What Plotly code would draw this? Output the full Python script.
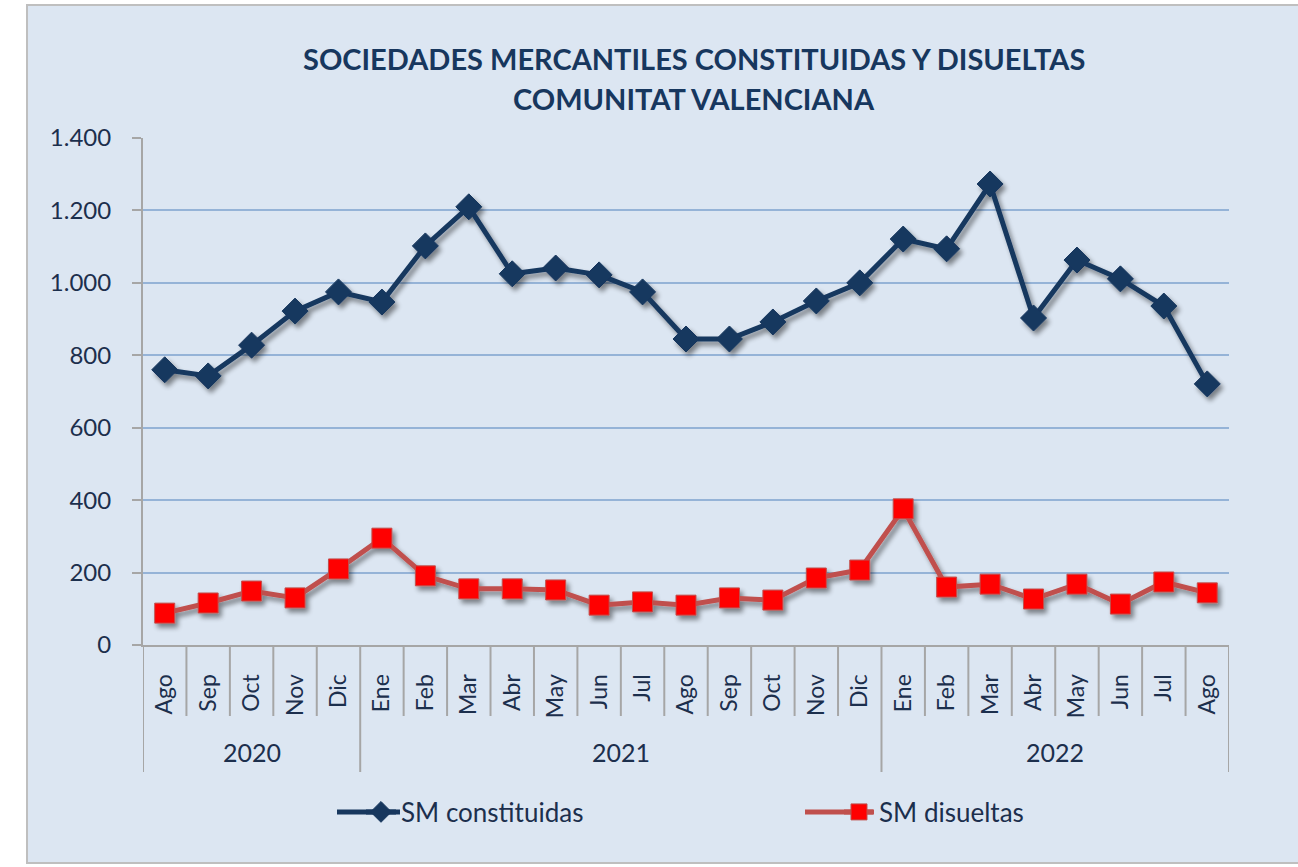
import plotly.graph_objects as go

months = ["Ago", "Sep", "Oct", "Nov", "Dic",
          "Ene", "Feb", "Mar", "Abr", "May", "Jun", "Jul", "Ago", "Sep", "Oct", "Nov", "Dic",
          "Ene", "Feb", "Mar", "Abr", "May", "Jun", "Jul", "Ago"]
years = ["2020", "2021", "2022"]
year_counts = [5, 12, 8]

constituidas = [760, 743, 828, 922, 975,
                947, 1102, 1210, 1025, 1041, 1022, 975, 845, 845, 892, 950, 1000,
                1121, 1094, 1273, 903, 1063, 1011, 936, 721]
disueltas = [88, 116, 149, 130, 210,
             295, 191, 155, 155, 152, 110, 119, 110, 130, 124, 185, 207,
             376, 160, 168, 127, 168, 113, 174, 144]

W, H = 1298, 867
L, R, T, B = 143, 1229, 138, 645
pw, ph = R - L, B - T


def px_x(p):
    return (p - L) / pw


def px_y(p):
    return (B - p) / ph


x = list(range(len(months)))
FONT = "Lato"
TXT = "#1c2f4d"
NAVY = "#17375e"
RED_LINE = "#c0504d"

fig = go.Figure()
fig.add_trace(go.Scatter(
    x=x, y=constituidas, name="SM constituidas", mode="lines+markers",
    line=dict(color=NAVY, width=5),
    marker=dict(symbol="diamond", size=20, color=NAVY, line=dict(color=NAVY, width=1)),
    legend="legend",
))
fig.add_trace(go.Scatter(
    x=x, y=disueltas, name="SM disueltas", mode="lines+markers",
    line=dict(color=RED_LINE, width=5),
    marker=dict(symbol="square", size=20, color="#ff0000", line=dict(color=RED_LINE, width=1)),
    legend="legend2",
))

shapes = []
shapes.append(dict(type="rect", xref="paper", yref="paper", layer="below",
                   x0=px_x(27), x1=px_x(1310), y0=px_y(863), y1=px_y(5),
                   fillcolor="#dce6f2", line=dict(color="#bfbfbf", width=2)))
n = len(months)
year_bounds = []
acc = 0
for c in year_counts:
    year_bounds.append(acc)
    acc += c
year_bounds.append(acc)
for i in range(n + 1):
    xb = i - 0.5
    y0 = px_y(772) if i in year_bounds else px_y(716)
    shapes.append(dict(type="line", xref="x", yref="paper", x0=xb, x1=xb,
                       y0=y0, y1=0, line=dict(color="#a6a6a6", width=2)))
# legend symbol line extensions
for (xa, xb2, col) in [(337, 400, NAVY), (805, 873, RED_LINE)]:
    shapes.append(dict(type="line", xref="paper", yref="paper", layer="above",
                       x0=px_x(xa), x1=px_x(xb2), y0=px_y(812), y1=px_y(812),
                       line=dict(color=col, width=5)))

annotations = [
    dict(text="<b>SOCIEDADES MERCANTILES CONSTITUIDAS Y DISUELTAS</b>",
         xref="paper", yref="paper", x=px_x(694), y=px_y(58), showarrow=False,
         font=dict(family=FONT, size=29, color=NAVY), xanchor="center", yanchor="middle"),
    dict(text="<b>COMUNITAT VALENCIANA</b>",
         xref="paper", yref="paper", x=px_x(694), y=px_y(98), showarrow=False,
         font=dict(family=FONT, size=29, color=NAVY), xanchor="center", yanchor="middle"),
]
for yi, yl in enumerate(years):
    center = year_bounds[yi] + (year_counts[yi] - 1) / 2
    annotations.append(dict(text=yl, xref="x", yref="paper", x=center, y=px_y(752),
                            showarrow=False, font=dict(family=FONT, size=25, color=TXT),
                            xanchor="center", yanchor="middle"))

leg_common = dict(orientation="h", yanchor="middle", xanchor="left",
                  bgcolor="rgba(0,0,0,0)", font=dict(family=FONT, size=26, color=TXT))

fig.update_layout(
    width=W, height=H,
    margin=dict(l=L, r=W - R, t=T, b=H - B, pad=0),
    paper_bgcolor="white",
    plot_bgcolor="#f2f2f2",
    separators=",.",
    font=dict(family=FONT, size=24, color=TXT),
    shapes=shapes,
    annotations=annotations,
    showlegend=True,
    legend=dict(x=px_x(361), y=px_y(812), **leg_common),
    legend2=dict(x=px_x(839), y=px_y(812), **leg_common),
    xaxis=dict(
        range=[-0.5, n - 0.5], tickmode="array", tickvals=x, ticktext=months,
        tickangle=-90, showgrid=False, zeroline=False, showline=True,
        linecolor="#a6a6a6", linewidth=2, ticks="", ticklabelstandoff=18,
        tickfont=dict(family=FONT, size=23, color=TXT),
    ),
    yaxis=dict(
        range=[0, 1400], dtick=200, tick0=0, separatethousands=True,
        showgrid=True, gridcolor="#95b3d7", gridwidth=1.5, zeroline=False,
        showline=True, linecolor="#a6a6a6", linewidth=2,
        ticks="outside", ticklen=9, tickcolor="#a6a6a6", tickwidth=2,
        ticklabelstandoff=16, tickfont=dict(family=FONT, size=24, color=TXT),
    ),
)

post = """
document.body.style.margin='0';
var gd = document.getElementById('{plot_id}');
var svg = gd.querySelector('svg.main-svg');
var ns = 'http://www.w3.org/2000/svg';
var defs = document.createElementNS(ns, 'defs');
svg.insertBefore(defs, svg.firstChild);
var f = document.createElementNS(ns, 'filter');
f.setAttribute('id', 'lineshadow');
f.setAttribute('filterUnits', 'userSpaceOnUse');
f.setAttribute('x', '0'); f.setAttribute('y', '0');
f.setAttribute('width', '1400'); f.setAttribute('height', '900');
var blur = document.createElementNS(ns, 'feGaussianBlur');
blur.setAttribute('in', 'SourceAlpha'); blur.setAttribute('stdDeviation', '2.5');
var off = document.createElementNS(ns, 'feOffset');
off.setAttribute('dx', '3'); off.setAttribute('dy', '4'); off.setAttribute('result', 'ob');
var ct = document.createElementNS(ns, 'feComponentTransfer');
var fa = document.createElementNS(ns, 'feFuncA');
fa.setAttribute('type', 'linear'); fa.setAttribute('slope', '0.45');
ct.appendChild(fa); ct.setAttribute('result', 'sh');
var merge = document.createElementNS(ns, 'feMerge');
var m1 = document.createElementNS(ns, 'feMergeNode'); m1.setAttribute('in', 'sh');
var m2 = document.createElementNS(ns, 'feMergeNode'); m2.setAttribute('in', 'SourceGraphic');
merge.appendChild(m1); merge.appendChild(m2);
f.appendChild(blur); f.appendChild(off); f.appendChild(ct); f.appendChild(merge);
defs.appendChild(f);
gd.querySelectorAll('.scatterlayer .trace').forEach(function(t){ t.setAttribute('filter', 'url(#lineshadow)'); });
"""

fig.write_html("out.html", post_script=post, config={"displayModeBar": False})
